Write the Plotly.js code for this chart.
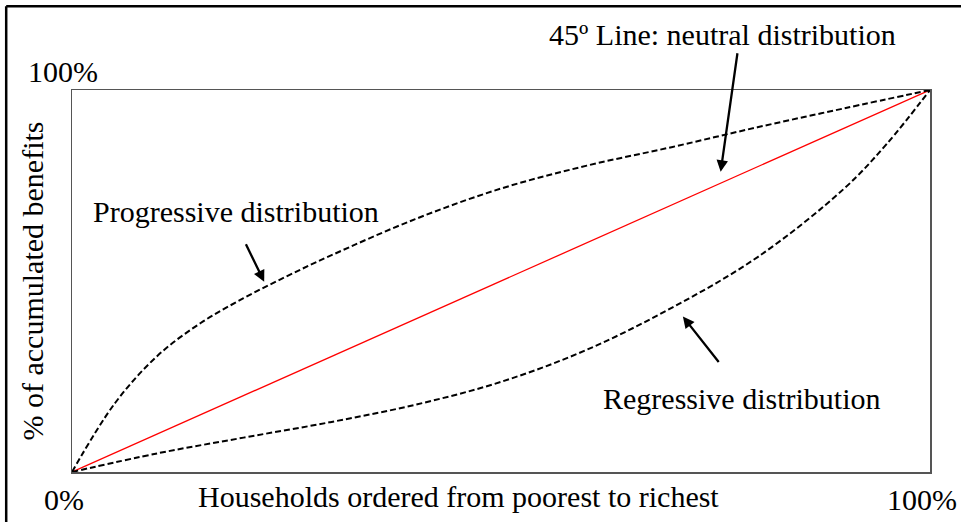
<!DOCTYPE html>
<html>
<head>
<meta charset="utf-8">
<script src="https://cdn.plot.ly/plotly-3.0.1.min.js"></script>
<style>
  html, body { margin: 0; padding: 0; background: #fff; }
  #chart { width: 961px; height: 522px; }
</style>
</head>
<body>
<div id="chart"></div>
<script>
// share of households (x, %) vs accumulated benefits (y, %)
const progX = [0, 5, 10, 15, 20, 25, 30, 40, 50, 60, 70, 80, 90, 100];
const progY = [0, 18, 30.5, 39, 45.5, 51.2, 56.5, 66.2, 74.2, 80.2, 85.1, 90.3, 95.2, 100];

const regX = [0, 10, 20, 30, 40, 50, 60, 70, 80, 90, 95, 100];
const regY = [0, 4.9, 9.0, 13.0, 17.6, 23.6, 32.0, 43.1, 56.4, 74.2, 86.0, 100];

const neutralX = [0, 100];
const neutralY = [0, 100];

const tickVals = [0, 100];
const tickText = ['0%', '100%'];

const serif = 'Liberation Serif, Times New Roman, serif';

const data = [
  {
    x: neutralX, y: neutralY, type: 'scatter', mode: 'lines',
    line: { color: '#ff0000', width: 1.3 }, hoverinfo: 'skip'
  },
  {
    x: progX, y: progY, type: 'scatter', mode: 'lines',
    line: { color: '#000', width: 2, dash: '6px,3px', shape: 'spline', smoothing: 1 }
  },
  {
    x: regX, y: regY, type: 'scatter', mode: 'lines',
    line: { color: '#000', width: 2, dash: '6px,3px', shape: 'spline', smoothing: 1 }
  }
];

// paper coordinates from pixel positions (plot area 72..930 x 90..472)
function px(p) { return (p - 72) / 858; }
function py(p) { return (472.5 - p) / 382.5; }

const textFont = { family: serif, size: 30, color: '#000' };

const layout = {
  width: 961,
  height: 522,
  margin: { l: 72, r: 31, t: 90, b: 50 },
  paper_bgcolor: '#fff',
  plot_bgcolor: '#fff',
  showlegend: false,
  font: { family: serif, size: 30, color: '#000' },
  xaxis: {
    range: [0, 100],
    showgrid: false, zeroline: false,
    showline: true, mirror: true, linecolor: '#555', linewidth: 1.5,
    tickvals: tickVals, ticktext: tickText, ticks: '',
    ticklabelshift: -8, ticklabelstandoff: 0,
    tickfont: textFont
  },
  yaxis: {
    range: [0, 100],
    showgrid: false, zeroline: false,
    showline: true, mirror: true, linecolor: '#555', linewidth: 1.5,
    showticklabels: false, ticks: '',
    title: { text: '% of accumulated benefits', font: textFont, standoff: 18 }
  },
  shapes: [
    { type: 'line', xref: 'paper', yref: 'paper', x0: px(6.2), x1: px(6.2), y0: py(6.2), y1: py(530),
      line: { color: '#000', width: 2.5 } },
    { type: 'line', xref: 'paper', yref: 'paper', x0: px(6.2), x1: px(970), y0: py(6.2), y1: py(6.2),
      line: { color: '#000', width: 2.5 } }
  ],
  annotations: [
    { xref: 'paper', yref: 'paper', x: px(458), y: py(497), text: 'Households ordered from poorest to richest',
      showarrow: false, font: textFont, xanchor: 'center', yanchor: 'middle' },
    { xref: 'paper', yref: 'paper', x: px(63), y: py(71), text: '100%',
      showarrow: false, font: textFont, xanchor: 'center', yanchor: 'middle' },
    { xref: 'paper', yref: 'paper', x: px(236), y: py(212), text: 'Progressive distribution',
      showarrow: false, font: textFont, xanchor: 'center', yanchor: 'middle' },
    { xref: 'paper', yref: 'paper', x: px(741), y: py(399), text: 'Regressive distribution',
      showarrow: false, font: textFont, xanchor: 'center', yanchor: 'middle' },
    { xref: 'paper', yref: 'paper', x: px(722), y: py(34), text: '45º Line: neutral distribution',
      showarrow: false, font: textFont, xanchor: 'center', yanchor: 'middle' },
    // arrows
    { x: 22.4, y: 49.8, ax: -19, ay: -39, text: '', showarrow: true,
      arrowhead: 2, arrowsize: 1, arrowwidth: 2.3, arrowcolor: '#000' },
    { x: 71.2, y: 40.7, ax: 37, ay: 47, text: '', showarrow: true,
      arrowhead: 2, arrowsize: 1, arrowwidth: 2.3, arrowcolor: '#000' },
    { x: 75.6, y: 78.6, ax: 17, ay: -120, text: '', showarrow: true,
      arrowhead: 2, arrowsize: 1, arrowwidth: 2.3, arrowcolor: '#000' }
  ]
};

Plotly.newPlot('chart', data, layout, { displayModeBar: false, staticPlot: true });
</script>
</body>
</html>
